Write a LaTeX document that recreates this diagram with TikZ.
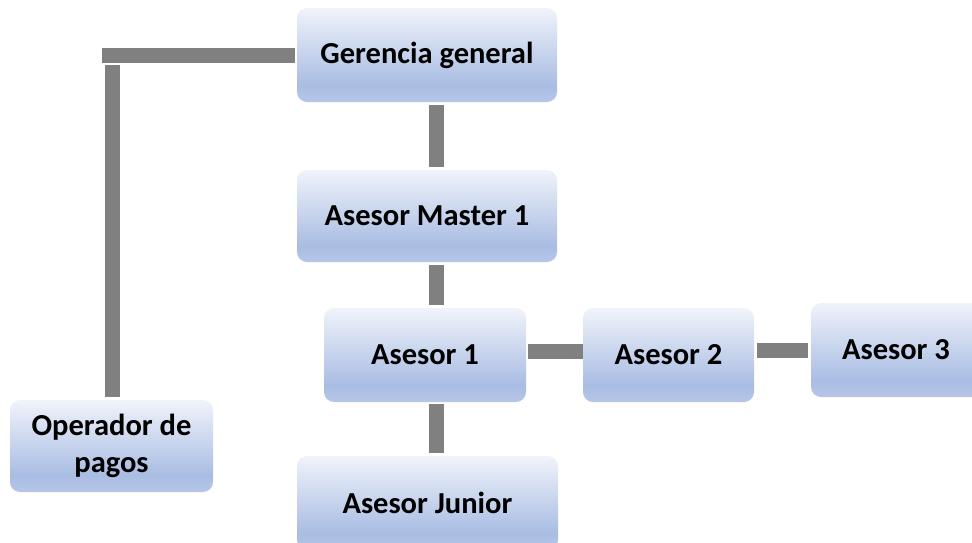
\documentclass[tikz,border=0pt]{standalone}
\usepackage{fontspec}
\setmainfont{Carlito}
\definecolor{boxtop}{HTML}{F0F3FA}
\definecolor{boxmid}{HTML}{A9BDE3}
\definecolor{boxbot}{HTML}{B6C6E7}
\definecolor{linkgray}{HTML}{808080}
% soft vertical blue gradient used by every box (path spans 25bp..75bp)
\pgfdeclareverticalshading{boxshade}{100bp}{%
  color(0bp)=(boxbot); color(25bp)=(boxbot); color(34bp)=(boxmid);
  color(75bp)=(boxtop); color(100bp)=(boxtop)}
\tikzset{
  orgbox/.style={rounded corners=10pt, shading=boxshade, draw=none,
    inner sep=2pt, align=center, font=\bfseries\fontsize{30.5}{37}\selectfont,
    text=black},
  link/.style={draw=linkgray, line width=15pt, line cap=butt},
}
\begin{document}
\begin{tikzpicture}[x=1pt,y=-1pt]
  \useasboundingbox (0,0) rectangle (972,542);
  \clip (0,0) rectangle (972,542);

  % boxes
  \node[orgbox, minimum width=260pt, minimum height=94pt] (g)  at (427,55)    {Gerencia general};
  \node[orgbox, minimum width=260pt, minimum height=92pt] (m)  at (427,216)   {Asesor Master 1};
  \node[orgbox, minimum width=202pt, minimum height=94pt] (a1) at (425,355)   {Asesor 1};
  \node[orgbox, minimum width=171pt, minimum height=94pt] (a2) at (668.5,355) {Asesor 2};
  \node[orgbox, minimum width=170pt, minimum height=94pt] (a3) at (896,350)   {Asesor 3};
  \node[orgbox, minimum width=261pt, minimum height=94pt] (j)  at (427.5,503) {Asesor Junior};
  \node[orgbox, minimum width=203pt, minimum height=92pt] (op) at (111.5,446) {Operador de\\pagos};

  % helper points for the connector runs
  \coordinate (spine) at (436,0);
  \coordinate (hend)  at (102,55);
  \coordinate (vtop)  at (112.5,65);

  % connectors
  \draw[link, shorten <=3pt, shorten >=3pt] (g.south -| spine) -- (m.north -| spine);
  \draw[link, shorten <=3pt, shorten >=3pt] (m.south -| spine) -- (a1.north -| spine);
  \draw[link, shorten <=2pt, shorten >=3pt] (a1.south -| spine) -- (j.north -| spine);
  \draw[link, shorten <=2pt] ([yshift=4pt]a1.east) -- ([yshift=4pt]a2.west);
  \draw[link, shorten <=3pt, shorten >=3pt] ([yshift=4.5pt]a2.east) -- ([yshift=4.5pt]a2.east -| a3.west);
  \draw[link, shorten <=2pt] (g.west) -- (hend);
  \draw[link, shorten >=3pt] (vtop) -- (op.north -| vtop);
\end{tikzpicture}
\end{document}
